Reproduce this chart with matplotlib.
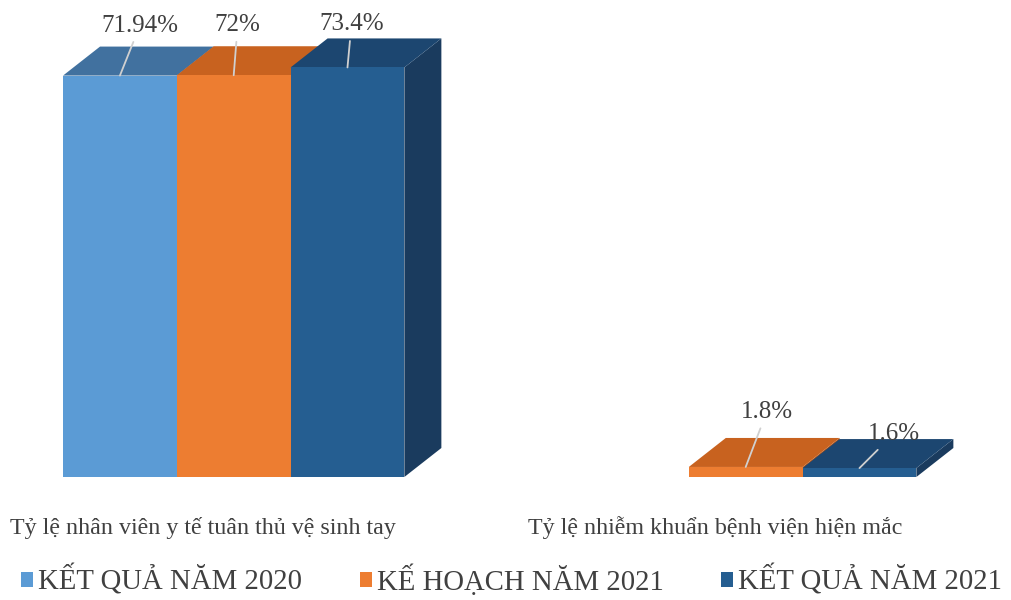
import numpy as np
import matplotlib.pyplot as plt
from matplotlib.patches import Polygon, Patch

plt.rcParams['font.family'] = ['Liberation Serif', 'DejaVu Serif']

# ---- data ----
categories = ["Tỷ lệ nhân viên y tế tuân thủ vệ sinh tay",
              "Tỷ lệ nhiễm khuẩn bệnh viện hiện mắc"]
series_names = ["KẾT QUẢ NĂM 2020", "KẾ HOẠCH NĂM 2021", "KẾT QUẢ NĂM 2021"]
ket_qua_2020 = [71.94, np.nan]
ke_hoach_2021 = [72.0, 1.8]
ket_qua_2021 = [73.4, 1.6]
series_values = [ket_qua_2020, ke_hoach_2021, ket_qua_2021]

# ---- style ----
front_colors = ["#5B9BD5", "#ED7D31", "#255E91"]
top_colors = ["#41719F", "#C8621F", "#1C4670"]
side_colors = ["#3A6690", "#B0541A", "#1A3B5E"]
text_color = "#404040"
leader_color = "#D0D0D0"
depth_px = (37, 29)          # projection of the bar depth, in pixels
bar_w = 1 / 4.5              # gap width 150 %
# label offsets (pixels) from the front-top centre of each bar
label_offsets = [[(20, 50), None], [(4, 50), (21, 55)], [(4, 43), (34, 34)]]

W, H = 1012, 600
fig = plt.figure(figsize=(W / 100, H / 100), dpi=100)
ax = fig.add_axes([0, 0, 1, 1])
ax.axis("off")

px_x = 512.0     # pixels per category unit
px_y = 5.58      # pixels per percent
x0_px, base_px = 233.7, 123.0
ax.set_xlim(-x0_px / px_x, (W - x0_px) / px_x)
ax.set_ylim(-base_px / px_y, (H - base_px) / px_y)

ddx = depth_px[0] / px_x
ddy = depth_px[1] / px_y

x_idx = np.arange(len(categories))
for j, vals in enumerate(series_values):
    vals = np.asarray(vals, dtype=float)
    xs = x_idx + (j - 1) * bar_w
    ok = ~np.isnan(vals)
    z = 2 + j * 3
    ax.bar(xs[ok], vals[ok], width=bar_w, color=front_colors[j],
           linewidth=0, zorder=z + 2)
    for x, v in zip(xs[ok], vals[ok]):
        left, right = x - bar_w / 2, x + bar_w / 2
        top = Polygon([(left, v), (right, v), (right + ddx, v + ddy),
                       (left + ddx, v + ddy)], closed=True,
                      facecolor=top_colors[j], edgecolor="none", zorder=z + 1)
        side = Polygon([(right, 0), (right + ddx, ddy), (right + ddx, v + ddy),
                        (right, v)], closed=True,
                       facecolor=side_colors[j], edgecolor="none", zorder=z)
        ax.add_patch(top)
        ax.add_patch(side)
    for i, (x, v) in enumerate(zip(xs, vals)):
        if np.isnan(v):
            continue
        off = label_offsets[j][i]
        ax.annotate(f"{v:g}%", xy=(x, v), xytext=off,
                    textcoords="offset pixels", ha="center", va="center",
                    fontsize=18, color=text_color, zorder=20,
                    arrowprops=dict(arrowstyle="-", color=leader_color,
                                    lw=1.3, shrinkA=2, shrinkB=0))

# category labels
for i, name in enumerate(categories):
    ax.annotate(name, xy=(x_idx[i], 0), xytext=(-31, -51),
                textcoords="offset pixels", ha="center", va="center",
                fontsize=17.3, color=text_color)

handles = [Patch(facecolor=c, edgecolor="none") for c in front_colors]
fig.legend(handles, series_names, loc="center",
           bbox_to_anchor=(511.5 / W, 1 - 580 / H), ncol=3, frameon=False,
           fontsize=20.7, handlelength=0.42, handleheight=0.42,
           handletextpad=0.17, columnspacing=2.0, labelcolor=text_color)

fig.savefig("out.png", dpi=100, facecolor="white")
